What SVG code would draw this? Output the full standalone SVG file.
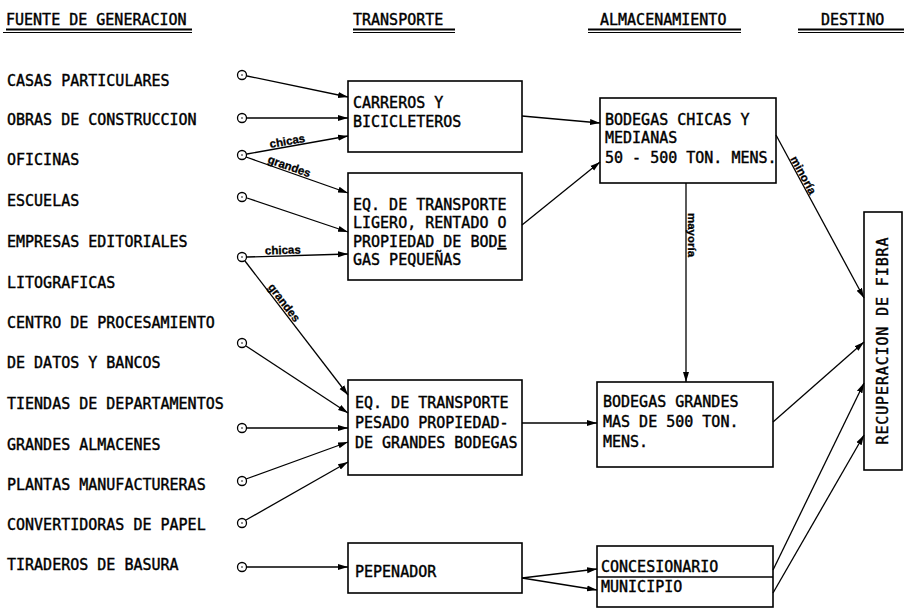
<svg xmlns="http://www.w3.org/2000/svg" width="904" height="610" viewBox="0 0 904 610">
<defs>
<marker id="ah" markerUnits="userSpaceOnUse" markerWidth="10" markerHeight="8" refX="10" refY="4" orient="auto">
<path d="M0,1 L10,4 L0,7 z" fill="#000"/>
</marker>
<style>
.t{font-family:"DejaVu Sans Mono","Liberation Mono",monospace;font-size:15px;fill:#000;stroke:#000;stroke-width:0.4}
.h{font-family:"DejaVu Sans Mono","Liberation Mono",monospace;font-size:15px;fill:#000;stroke:#000;stroke-width:0.4}
.b{fill:#fff;stroke:#000;stroke-width:1.6}
.c{fill:#fff;stroke:#000;stroke-width:1.3}
.d{fill:#000}
.l{fill:none;stroke:#000;stroke-width:1.3}
.a{fill:none;stroke:#000;stroke-width:1.3;marker-end:url(#ah)}
.u{stroke:#000;fill:none}
.s{font-family:"Liberation Sans",Arial,sans-serif;font-size:11.5px;font-weight:bold;fill:#000;stroke:#000;stroke-width:0.3}
</style>
</defs>
<rect width="904" height="610" fill="#fff"/>

<g id="headers">
<text class="h" x="6" y="25">FUENTE DE GENERACION</text>
<text class="h" x="353" y="25">TRANSPORTE</text>
<text class="h" x="600" y="25">ALMACENAMIENTO</text>
<text class="h" x="821" y="25">DESTINO</text>
<path class="u" stroke-width="2" d="M6,29.5 H192 M353,29.5 H455 M588,29.5 H741 M798,29.5 H904"/>
<path class="u" stroke-width="1.2" d="M3,32.5 H192 M353,32.5 H455 M588,32.5 H741 M798,32.5 H904"/>
</g>

<g id="sources">
<text class="t" x="7" y="86">CASAS PARTICULARES</text>
<text class="t" x="7" y="125">OBRAS DE CONSTRUCCION</text>
<text class="t" x="7" y="165">OFICINAS</text>
<text class="t" x="7" y="206">ESCUELAS</text>
<text class="t" x="7" y="247">EMPRESAS EDITORIALES</text>
<text class="t" x="7" y="288">LITOGRAFICAS</text>
<text class="t" x="7" y="328">CENTRO DE PROCESAMIENTO</text>
<text class="t" x="7" y="368">DE DATOS Y BANCOS</text>
<text class="t" x="7" y="409">TIENDAS DE DEPARTAMENTOS</text>
<text class="t" x="7" y="450">GRANDES ALMACENES</text>
<text class="t" x="7" y="490">PLANTAS MANUFACTURERAS</text>
<text class="t" x="7" y="530">CONVERTIDORAS DE PAPEL</text>
<text class="t" x="7" y="570">TIRADEROS DE BASURA</text>
</g>

<g id="source-points">
<circle class="c" cx="242" cy="75" r="4.5"/><circle class="d" cx="242" cy="75" r="0.8"/>
<circle class="c" cx="242" cy="118" r="4.5"/><circle class="d" cx="242" cy="118" r="0.8"/>
<circle class="c" cx="242" cy="155" r="4.5"/><circle class="d" cx="242" cy="155" r="0.8"/>
<circle class="c" cx="242" cy="197" r="4.5"/><circle class="d" cx="242" cy="197" r="0.8"/>
<circle class="c" cx="242" cy="257" r="4.5"/><circle class="d" cx="242" cy="257" r="0.8"/>
<circle class="c" cx="242" cy="343" r="4.5"/><circle class="d" cx="242" cy="343" r="0.8"/>
<circle class="c" cx="242" cy="428" r="4.5"/><circle class="d" cx="242" cy="428" r="0.8"/>
<circle class="c" cx="242" cy="481" r="4.5"/><circle class="d" cx="242" cy="481" r="0.8"/>
<circle class="c" cx="242" cy="523" r="4.5"/><circle class="d" cx="242" cy="523" r="0.8"/>
<circle class="c" cx="242" cy="567" r="4.5"/><circle class="d" cx="242" cy="567" r="0.8"/>
</g>

<g id="carreros">
<rect class="b" x="348" y="81" width="174" height="71"/>
<text class="t" x="353" y="108">CARREROS Y</text>
<text class="t" x="353" y="127">BICICLETEROS</text>
</g>

<g id="ligero">
<rect class="b" x="348" y="173" width="174" height="107"/>
<text class="t" x="353" y="210">EQ. DE TRANSPORTE</text>
<text class="t" x="353" y="228">LIGERO, RENTADO O</text>
<text class="t" x="353" y="247">PROPIEDAD DE BOD<tspan style="text-decoration:underline">E</tspan></text>
<text class="t" x="353" y="265">GAS PEQUEÑAS</text>
</g>

<g id="pesado">
<rect class="b" x="348" y="380" width="174" height="95"/>
<text class="t" x="355" y="408">EQ. DE TRANSPORTE</text>
<text class="t" x="355" y="428">PESADO PROPIEDAD-</text>
<text class="t" x="355" y="448">DE GRANDES BODEGAS</text>
</g>

<g id="pepenador">
<rect class="b" x="348" y="543" width="174" height="50"/>
<text class="t" x="355" y="577">PEPENADOR</text>
</g>

<g id="bodegas-chicas">
<rect class="b" x="600" y="98" width="176" height="85"/>
<text class="t" x="605" y="125">BODEGAS CHICAS Y</text>
<text class="t" x="605" y="143">MEDIANAS</text>
<text class="t" x="605" y="163">50 - 500 TON. MENS.</text>
</g>

<g id="bodegas-grandes">
<rect class="b" x="597" y="382" width="176" height="85"/>
<text class="t" x="603" y="407">BODEGAS GRANDES</text>
<text class="t" x="603" y="427">MAS DE 500 TON.</text>
<text class="t" x="603" y="447">MENS.</text>
</g>

<g id="concesionario-municipio">
<rect class="b" x="597" y="546" width="176" height="61"/>
<line class="l" x1="597" y1="577" x2="773" y2="577" stroke-width="1.6"/>
<text class="t" x="601" y="572">CONCESIONARIO</text>
<text class="t" x="601" y="592">MUNICIPIO</text>
</g>

<g id="recuperacion">
<rect class="b" x="864" y="212" width="38" height="258"/>
<text class="t" transform="translate(888,341) rotate(-90)" text-anchor="middle" textLength="207" lengthAdjust="spacing">RECUPERACION DE FIBRA</text>
</g>

<g id="connectors">
<line class="a" x1="247" y1="76" x2="348" y2="97"/>
<line class="a" x1="247" y1="118" x2="348" y2="118"/>
<line class="a" x1="247" y1="154" x2="348" y2="136"/>
<line class="a" x1="246" y1="157" x2="348" y2="193"/>
<line class="a" x1="247" y1="198" x2="348" y2="232"/>
<line class="a" x1="247" y1="257" x2="348" y2="254"/>
<line class="a" x1="245" y1="261" x2="348" y2="395"/>
<line class="a" x1="246" y1="346" x2="348" y2="413"/>
<line class="a" x1="247" y1="428" x2="348" y2="428"/>
<line class="a" x1="246" y1="479" x2="348" y2="442"/>
<line class="a" x1="246" y1="520" x2="348" y2="462"/>
<line class="a" x1="247" y1="567" x2="348" y2="567"/>
<line class="a" x1="522" y1="116" x2="600" y2="123"/>
<line class="a" x1="522" y1="225" x2="600" y2="162"/>
<line class="a" x1="522" y1="423" x2="597" y2="423"/>
<line class="a" x1="686" y1="183" x2="686" y2="382"/>
<line class="a" x1="776" y1="135" x2="864" y2="298"/>
<line class="a" x1="773" y1="422" x2="864" y2="342"/>
<line class="a" x1="522" y1="578" x2="597" y2="569"/>
<line class="a" x1="522" y1="578" x2="597" y2="590"/>
<line class="a" x1="773" y1="570" x2="864" y2="383"/>
<line class="a" x1="773" y1="593" x2="864" y2="435"/>
<text class="s" transform="translate(288,145) rotate(-10)" text-anchor="middle">chicas</text>
<text class="s" transform="translate(288,170) rotate(19.4)" text-anchor="middle">grandes</text>
<text class="s" transform="translate(283,254) rotate(-1.7)" text-anchor="middle">chicas</text>
<text class="s" transform="translate(281,305) rotate(52.5)" text-anchor="middle">grandes</text>
<text class="s" transform="translate(688,235) rotate(90)" text-anchor="middle">mayoría</text>
<text class="s" transform="translate(800,177) rotate(61.6)" text-anchor="middle">minoría</text>
</g>
</svg>
